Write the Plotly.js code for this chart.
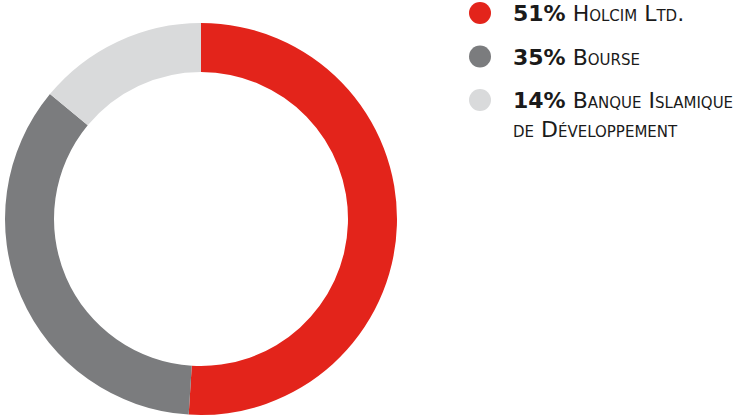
<!DOCTYPE html>
<html>
<head>
<meta charset="utf-8">
<script src="https://cdn.plot.ly/plotly-3.0.1.min.js"></script>
<style>
  html, body { margin: 0; padding: 0; background: #fff; }
  #chart { width: 754px; height: 417px; }
</style>
</head>
<body>
<div id="chart"></div>
<script>
// Shareholders
const labels = ['Holcim Ltd.', 'Bourse', 'Banque Islamique<br>de Développement'];
const shares = [51, 35, 14];
const sliceColors = ['#E3241B', '#7B7C7E', '#D9DADB'];

const W = 754, H = 417;

const donut = {
  type: 'pie',
  values: shares,
  labels: labels,
  hole: 0.75,
  sort: false,
  direction: 'clockwise',
  rotation: 0,
  textinfo: 'none',
  hoverinfo: 'skip',
  showlegend: false,
  marker: { colors: sliceColors, line: { width: 0 } },
  domain: { x: [5 / W, 397 / W], y: [2 / H, 394 / H] }
};

// hand-made legend: dot + text per share
const shapes = [];
const annotations = [];
const rowGap = 43.5;
shares.forEach((v, i) => {
  const cy = 13 + i * rowGap;
  shapes.push({
    type: 'circle', xref: 'paper', yref: 'paper',
    x0: 469 / W, x1: 491 / W,
    y0: 1 - (cy + 11) / H, y1: 1 - (cy - 11) / H,
    fillcolor: sliceColors[i], line: { width: 0 }
  });
  annotations.push({
    xref: 'paper', yref: 'paper',
    x: 511 / W, y: 1 - (cy - 14) / H,
    xanchor: 'left', yanchor: 'top', align: 'left',
    showarrow: false,
    text: '<b>' + v + '%</b> ' + labels[i],
    font: { family: 'DejaVu Sans, sans-serif', size: 22, color: '#1a1a1a', variant: 'small-caps' }
  });
});

const layout = {
  width: W,
  height: H,
  margin: { t: 0, r: 0, b: 0, l: 0 },
  paper_bgcolor: '#ffffff',
  plot_bgcolor: '#ffffff',
  shapes: shapes,
  annotations: annotations
};

Plotly.newPlot('chart', [donut], layout, { displayModeBar: false, staticPlot: true });
</script>
</body>
</html>
